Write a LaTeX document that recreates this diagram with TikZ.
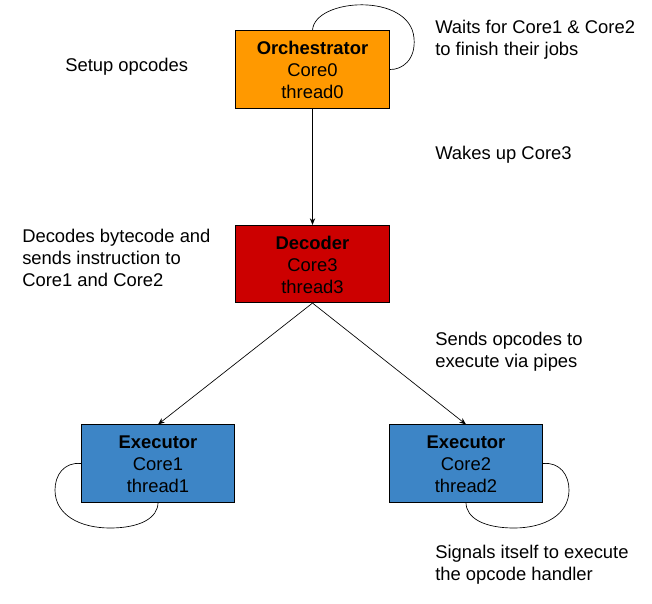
\documentclass[tikz,border=0pt]{standalone}
\usepackage{fontspec}
\setmainfont{Liberation Sans}
\usetikzlibrary{arrows.meta}
\definecolor{orchcol}{HTML}{FF9900}
\definecolor{deccol}{HTML}{CC0000}
\definecolor{execcol}{HTML}{3D85C6}
\begin{document}
\begin{tikzpicture}[x=0.75pt, y=-0.75pt, font=\fontsize{13.8pt}{16.5pt}\selectfont,
    corebox/.style={draw, rectangle, line width=0.6pt, minimum width=115pt, minimum height=58pt, inner sep=0pt},
    note/.style={anchor=west, align=left, inner sep=0pt},
    link/.style={-{Stealth[length=5pt, width=4pt]}, line width=0.5pt}]
    \useasboundingbox (0,0) rectangle (652,603);
    \renewcommand{\arraystretch}{1}
    \node[corebox, fill=orchcol] (orch) at (312.5,69.5) {
        \begin{tabular}{c}
            \rule{0pt}{16pt}\textbf{Orchestrator} \\
            Core0 \\
            thread0
        \end{tabular}
    };
    \node[corebox, fill=deccol] (dec) at (312.5,264) {
        \begin{tabular}{c}
            \rule{0pt}{16pt}\textbf{Decoder} \\
            Core3 \\
            thread3
        \end{tabular}
    };
    \node[corebox, fill=execcol] (exec1) at (158,463.5) {
        \begin{tabular}{c}
            \rule{0pt}{16pt}\textbf{Executor} \\
            Core1 \\
            thread1
        \end{tabular}
    };
    \node[corebox, fill=execcol] (exec2) at (466,463.5) {
        \begin{tabular}{c}
            \rule{0pt}{16pt}\textbf{Executor} \\
            Core2 \\
            thread2
        \end{tabular}
    };
    % notes
    \node[note] (setup) at (65,67) {Setup opcodes};
    \node[note] (waits) at (435,40) {Waits for Core1 \& Core2\\to finish their jobs};
    \node[note] (wakes) at (435,155) {Wakes up Core3};
    \node[note] (decodes) at (22,258) {Decodes bytecode and\\sends instruction to\\Core1 and Core2};
    \node[note] (sends) at (435,352) {Sends opcodes to\\execute via pipes};
    \node[note] (signals) at (435,565) {Signals itself to execute\\the opcode handler};
    % connectors
    \draw[link] (orch.south) -- (dec.north);
    \draw[link] (dec.south) -- (exec1.north);
    \draw[link] (dec.south) -- (exec2.north);
    % self loops
    \draw[line width=0.5pt] (orch.north) .. controls (314,-2) and (410,-8) .. (414,38)
        .. controls (416,60) and (402,70) .. (orch.east);
    \draw[line width=0.5pt] (exec1.west) .. controls (64,462) and (55,475) .. (55,490)
        .. controls (55,515) and (80,528) .. (110,528)
        .. controls (140,528) and (158,518) .. (exec1.south);
    \draw[line width=0.5pt] (exec2.east) .. controls (560,462) and (569,475) .. (569,490)
        .. controls (569,515) and (544,528) .. (514,528)
        .. controls (484,528) and (466,518) .. (exec2.south);
\end{tikzpicture}
\end{document}
